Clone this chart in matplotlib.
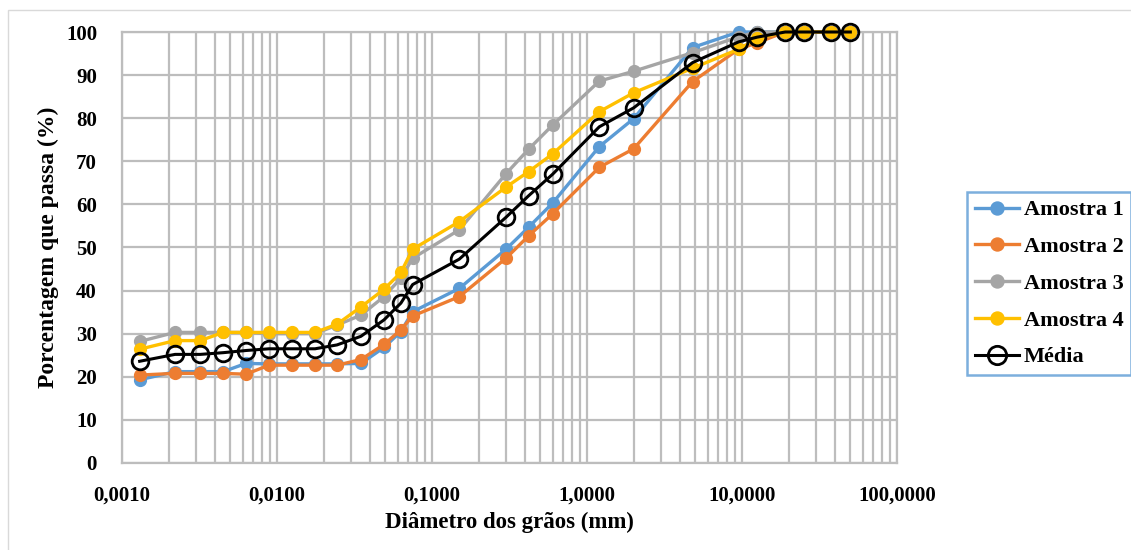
import matplotlib
matplotlib.use("Agg")
import matplotlib.pyplot as plt
from matplotlib.ticker import FixedLocator, FuncFormatter, LogLocator, NullFormatter
from matplotlib.patches import Rectangle

diametros = [0.0013, 0.0022, 0.0032, 0.0045, 0.0063, 0.0089, 0.0125, 0.0176, 0.0244,
             0.0348, 0.049, 0.063, 0.075, 0.15, 0.3, 0.42, 0.6, 1.2, 2.0, 4.8, 9.5,
             12.5, 19, 25, 37.5, 50]
amostra1 = [19.3, 21.2, 21.2, 21.2, 23.1, 23.0, 23.0, 23.0, 23.0, 23.1, 26.8, 30.5, 35.1,
            40.5, 49.6, 54.7, 60.3, 73.4, 79.9, 96.4, 100, 100, 100, 100, 100, 100]
amostra2 = [20.4, 20.8, 20.8, 20.8, 20.6, 22.7, 22.7, 22.7, 22.7, 24.0, 27.5, 30.9, 34.1,
            38.6, 47.5, 52.7, 57.8, 68.6, 72.9, 88.5, 96.0, 97.5, 100, 100, 100, 100]
amostra3 = [28.2, 30.3, 30.3, 30.3, 30.3, 30.0, 30.0, 30.0, 32.0, 34.3, 38.6, 42.9, 47.5,
            54.1, 67.1, 72.8, 78.4, 88.6, 90.9, 95.2, 98.9, 100, 100, 100, 100, 100]
amostra4 = [26.4, 28.4, 28.4, 30.3, 30.3, 30.3, 30.3, 30.3, 32.2, 36.2, 40.3, 44.2, 49.6,
            56.0, 64.0, 67.6, 71.7, 81.5, 85.9, 91.6, 96.0, 98.5, 100, 100, 100, 100]
media = [23.6, 25.2, 25.2, 25.6, 26.1, 26.5, 26.5, 26.5, 27.4, 29.4, 33.2, 37.1, 41.4,
         47.3, 57.0, 62.0, 67.0, 78.0, 82.4, 92.9, 97.7, 98.8, 100, 100, 100, 100]

series_nomes = ["Amostra 1", "Amostra 2", "Amostra 3", "Amostra 4", "Média"]
x_ticks = [0.001, 0.01, 0.1, 1, 10, 100]
x_tick_labels = ["0,0010", "0,0100", "0,1000", "1,0000", "10,0000", "100,0000"]
y_ticks = list(range(0, 101, 10))

plt.rcParams['font.family'] = ['Liberation Serif', 'DejaVu Serif']
plt.rcParams['font.weight'] = 'bold'

W, H = 1131, 550
fig = plt.figure(figsize=(W / 100, H / 100), dpi=100)
fig.patch.set_facecolor('white')

# outer chart border
fig.add_artist(Rectangle((8 / W, -0.1), 1.2, (H - 10) / H + 0.1, transform=fig.transFigure,
                         fill=False, edgecolor='#D9D9D9', linewidth=1.0))

ax = fig.add_axes([122 / W, (H - 463) / H, (897 - 122) / W, (463 - 32) / H])
ax.set_xscale('log')
ax.set_xlim(0.001, 100)
ax.set_ylim(0, 100)

gcol = '#BDBDBD'
ax.xaxis.set_major_locator(FixedLocator(x_ticks))
ax.xaxis.set_major_formatter(FuncFormatter(lambda v, p: x_tick_labels[x_ticks.index(v)] if v in x_ticks else ''))
ax.xaxis.set_minor_locator(LogLocator(base=10, subs=range(2, 10), numticks=20))
ax.xaxis.set_minor_formatter(NullFormatter())
ax.yaxis.set_major_locator(FixedLocator(y_ticks))
ax.grid(which='major', axis='both', color=gcol, linewidth=1.6)
ax.grid(which='minor', axis='x', color=gcol, linewidth=1.6)
ax.set_axisbelow(True)
for s in ax.spines.values():
    s.set_color(gcol)
    s.set_linewidth(1.6)
ax.tick_params(which='both', length=0)
ax.tick_params(axis='x', pad=16, labelsize=15)
ax.tick_params(axis='y', pad=18, labelsize=15)
for lbl in ax.get_xticklabels() + ax.get_yticklabels():
    lbl.set_fontweight('bold')

cores = ['#5B9BD5', '#ED7D31', '#A5A5A5', '#FFC000']
dados = [amostra1, amostra2, amostra3, amostra4]
handles = []
for nome, cor, ys in zip(series_nomes[:4], cores, dados):
    h, = ax.plot(diametros, ys, color=cor, linewidth=2.4, marker='o', markersize=8.5,
                 markerfacecolor=cor, markeredgecolor=cor, label=nome, zorder=3,
                 clip_on=False)
    handles.append(h)
h, = ax.plot(diametros, media, color='black', linewidth=2.2, marker='o', markersize=12,
             markerfacecolor='none', markeredgecolor='black', markeredgewidth=2.0,
             label=series_nomes[4], zorder=4, clip_on=False)
handles.append(h)

ax.set_xlabel("Diâmetro dos grãos (mm)", fontsize=16.5, fontweight='bold', labelpad=5)
ax.set_ylabel("Porcentagem que passa (%)", fontsize=17, fontweight='bold', labelpad=5)

leg = fig.legend(handles=handles, labels=series_nomes, loc='upper left',
                 bbox_to_anchor=(967 / W, 1 - 192 / H), frameon=True, fancybox=False,
                 prop={'family': 'Liberation Serif', 'weight': 'bold', 'size': 16},
                 handlelength=2.0, handletextpad=0.2, labelspacing=0.73,
                 borderpad=0.35, borderaxespad=0, markerscale=1.1)
leg.get_frame().set_edgecolor('#5B9BD5')
leg.get_frame().set_linewidth(1.8)

fig.savefig('out.png', dpi=100, facecolor='white')
